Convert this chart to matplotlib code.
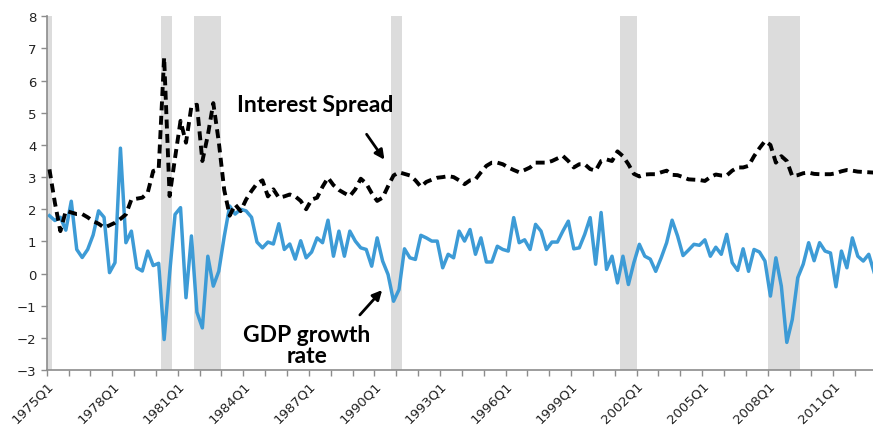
import matplotlib
matplotlib.use("Agg")
import matplotlib.pyplot as plt
import numpy as np

# quarterly data, 1975Q1 .. 2012Q4
quarters = [f"{y}Q{q}" for y in range(1975, 2013) for q in range(1, 5)]

gdp_growth = [
    1.80, 1.65, 1.75, 1.35, 2.25, 0.75, 0.50, 0.75, 1.20, 1.95,
    1.75, 0.03, 0.34, 3.90, 0.96, 1.32, 0.18, 0.08, 0.70, 0.25,
    0.32, -2.05, 0.00, 1.84, 2.05, -0.75, 1.17, -1.20, -1.69, 0.54,
    -0.39, 0.07, 1.15, 2.10, 1.85, 2.00, 1.95, 1.75, 0.98, 0.80,
    0.98, 0.92, 1.55, 0.75, 0.92, 0.45, 1.02, 0.49, 0.67, 1.11,
    0.96, 1.66, 0.54, 1.32, 0.54, 1.32, 1.01, 0.80, 0.75, 0.23,
    1.11, 0.39, -0.03, -0.86, -0.50, 0.77, 0.49, 0.44, 1.19, 1.11,
    1.01, 1.01, 0.18, 0.60, 0.49, 1.32, 1.01, 1.37, 0.60, 1.11,
    0.36, 0.36, 0.85, 0.75, 0.70, 1.74, 0.96, 1.05, 0.75, 1.53,
    1.32, 0.75, 0.98, 0.98, 1.32, 1.63, 0.77, 0.80, 1.22, 1.74,
    0.29, 1.90, 0.13, 0.54, -0.29, 0.54, -0.34, 0.34, 0.91, 0.54,
    0.45, 0.07, 0.49, 0.96, 1.66, 1.17, 0.56, 0.73, 0.91, 0.88,
    1.05, 0.54, 0.82, 0.60, 1.22, 0.34, 0.10, 0.77, 0.07, 0.75,
    0.67, 0.39, -0.70, 0.49, -0.39, -2.14, -1.43, -0.13, 0.29, 0.96,
    0.40, 0.96, 0.70, 0.64, -0.41, 0.70, 0.18, 1.11, 0.54, 0.39,
    0.60, 0.03,
]

interest_spread = [
    3.24, 2.20, 1.32, 1.95, 1.90, 1.85, 1.85, 1.75, 1.63, 1.55,
    1.43, 1.50, 1.58, 1.70, 1.84, 2.30, 2.33, 2.36, 2.52, 3.19,
    3.24, 6.72, 2.41, 3.60, 4.75, 4.07, 5.21, 5.25, 3.50, 4.30,
    5.30, 4.10, 2.60, 1.80, 2.15, 1.94, 2.30, 2.57, 2.80, 2.90,
    2.40, 2.62, 2.36, 2.40, 2.46, 2.40, 2.26, 2.00, 2.30, 2.36,
    2.70, 2.98, 2.75, 2.60, 2.50, 2.41, 2.62, 2.95, 2.80, 2.50,
    2.26, 2.36, 2.72, 3.05, 3.15, 3.10, 3.05, 2.90, 2.70, 2.85,
    2.92, 2.98, 3.00, 3.03, 3.00, 2.90, 2.78, 2.90, 2.93, 3.15,
    3.35, 3.45, 3.45, 3.40, 3.30, 3.22, 3.15, 3.22, 3.30, 3.45,
    3.45, 3.45, 3.50, 3.58, 3.66, 3.50, 3.30, 3.40, 3.40, 3.25,
    3.20, 3.50, 3.55, 3.50, 3.80, 3.65, 3.40, 3.10, 3.02, 3.08,
    3.09, 3.09, 3.15, 3.20, 3.07, 3.06, 3.00, 2.93, 2.92, 2.91,
    2.88, 3.00, 3.08, 3.05, 3.05, 3.20, 3.30, 3.30, 3.35, 3.65,
    3.90, 4.12, 4.00, 3.45, 3.65, 3.50, 3.03, 3.06, 3.12, 3.14,
    3.10, 3.09, 3.09, 3.09, 3.12, 3.18, 3.22, 3.20, 3.17, 3.16,
    3.15, 3.14,
]

# recession periods (first and last quarter shaded)
recessions = [("1975Q1", "1975Q1"), ("1980Q2", "1980Q3"), ("1981Q4", "1982Q4"),
              ("1990Q4", "1991Q1"), ("2001Q2", "2001Q4"), ("2008Q1", "2009Q2")]

W, H = 873, 427
n = len(quarters)
x = np.arange(n) + 0.5

fig = plt.figure(figsize=(W / 100, H / 100), dpi=100)
ax = fig.add_axes([0.0535, 0.131, 0.951, 0.8285])

for start, end in recessions:
    i0 = quarters.index(start)
    i1 = quarters.index(end) + 1
    ax.axvspan(i0, i1, color='#dcdcdc', lw=0, zorder=0)

ax.plot(x, gdp_growth, color='#3d9bd6', lw=2.5, zorder=2)
ax.plot(x, interest_spread, color='black', lw=2.8, linestyle=(0, (2.3, 1.4)), zorder=3)

ax.set_xlim(0, n)
ax.set_ylim(-3, 8)
ax.set_yticks(range(-3, 9))
ax.set_xticks(range(0, n + 1, 4))
ax.set_xticklabels([quarters[i] if (i % 12 == 0 and i < n) else '' for i in range(0, n + 1, 4)],
                   rotation=45, ha='right', rotation_mode='anchor')

for s in ['top', 'right']:
    ax.spines[s].set_visible(False)
for s in ['left', 'bottom']:
    ax.spines[s].set_color('#8c8c8c')
    ax.spines[s].set_linewidth(1.2)
ax.tick_params(axis='both', colors='#8c8c8c', length=4, width=1.0, labelsize=9.5, labelcolor='#222222')
ax.tick_params(axis='x', pad=2)


def fx(px):
    return px / W


def fy(py):
    return 1 - py / H


arrow = dict(arrowstyle='-|>', color='black', lw=2, mutation_scale=14)

fig.text(fx(315), fy(105), 'Interest Spread', fontsize=16.5, fontweight='bold',
         family='Lato', ha='center', va='center')
ax.annotate('', xy=(fx(386), fy(163)), xytext=(fx(365), fy(133)),
            xycoords='figure fraction', textcoords='figure fraction', arrowprops=arrow)

fig.text(fx(307), fy(346), 'GDP growth\nrate', fontsize=16.5, fontweight='bold',
         family='Lato', ha='center', va='center', linespacing=1.0)
ax.annotate('', xy=(fx(384), fy(289)), xytext=(fx(358), fy(318)),
            xycoords='figure fraction', textcoords='figure fraction', arrowprops=arrow)

fig.savefig('out.png', dpi=100)
